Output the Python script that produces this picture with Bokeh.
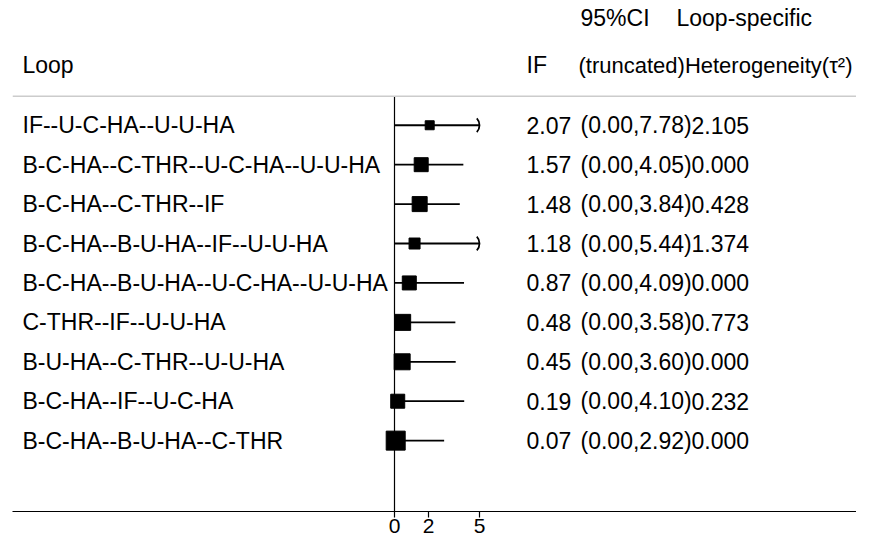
from bokeh.plotting import figure
from bokeh.models import Range1d, FixedTicker, Span
from bokeh.core.properties import value
from bokeh.embed import file_html
from bokeh.resources import INLINE

# ---------------- data ----------------
loops = [
    "IF--U-C-HA--U-U-HA",
    "B-C-HA--C-THR--U-C-HA--U-U-HA",
    "B-C-HA--C-THR--IF",
    "B-C-HA--B-U-HA--IF--U-U-HA",
    "B-C-HA--B-U-HA--U-C-HA--U-U-HA",
    "C-THR--IF--U-U-HA",
    "B-U-HA--C-THR--U-U-HA",
    "B-C-HA--IF--U-C-HA",
    "B-C-HA--B-U-HA--C-THR",
]
if_vals = [2.07, 1.57, 1.48, 1.18, 0.87, 0.48, 0.45, 0.19, 0.07]
ci_lo = [0.00, 0.00, 0.00, 0.00, 0.00, 0.00, 0.00, 0.00, 0.00]
ci_hi = [7.78, 4.05, 3.84, 5.44, 4.09, 3.58, 3.60, 4.10, 2.92]
tau2 = [2.105, 0.000, 0.428, 1.374, 0.000, 0.773, 0.000, 0.232, 0.000]
weight_px = [9, 14, 15, 11, 14, 16, 16, 14, 19]
x_ticks = [0, 2, 5]
trunc_at = 5

# ---------------- layout ----------------
FONT = "Liberation Sans"
W, H = 856, 535
LEFT, RIGHT = 12, 856   # frame extent (px)
PX_UNIT = 17.0          # px per IF unit
ZERO_PX = 394.0         # x of IF = 0
ROW_PX = 39.5           # px per row
ROW1_PX = 125.0         # y of first row
FRAME_H = 512.0         # expected frame height

x_start = (LEFT - ZERO_PX) / PX_UNIT
x_end = (RIGHT - ZERO_PX) / PX_UNIT
y_top = 1 - ROW1_PX / ROW_PX
y_bot = 1 + (FRAME_H - ROW1_PX) / ROW_PX

def col(px):
    return (px - ZERO_PX) / PX_UNIT

def row(py):
    return 1 + (py - ROW1_PX) / ROW_PX

rows = list(range(1, len(loops) + 1))

p = figure(width=W, height=H, output_backend="svg", toolbar_location=None,
           x_range=Range1d(x_start, x_end), y_range=Range1d(y_bot, y_top),
           y_axis_location=None, min_border_left=LEFT, min_border_right=W - RIGHT,
           min_border_top=0, min_border_bottom=0)
p.grid.visible = False
p.outline_line_color = None
p.background_fill_color = "white"
p.border_fill_color = "white"

ax = p.xaxis[0]
ax.ticker = FixedTicker(ticks=x_ticks)
ax.minor_tick_line_color = None
ax.major_tick_in = 0
ax.major_tick_out = 6
ax.major_tick_line_color = "black"
ax.major_tick_line_width = 1.2
ax.axis_line_color = "black"
ax.axis_line_width = 1.2
ax.major_label_standoff = 1
ax.major_label_text_font = FONT
ax.major_label_text_font_size = "21px"
ax.major_label_text_color = "black"

sep_y = row(96)
p.add_layout(Span(location=sep_y, dimension="width", line_color="#cccccc", line_width=1.5))
p.segment(x0=[0], y0=[sep_y], x1=[0], y1=[y_bot], line_color="black", line_width=1.2)

# CI lines (truncated)
hi_plot = [min(h, trunc_at) for h in ci_hi]
p.segment(x0=ci_lo, y0=rows, x1=hi_plot, y1=rows, line_color="black", line_width=1.8)
# truncation marks
tr_rows = [r for r, h in zip(rows, ci_hi) if h > trunc_at]
arc_r = 10
p.arc(x=[trunc_at - arc_r / PX_UNIT] * len(tr_rows), y=tr_rows, radius=arc_r,
      radius_units="screen", start_angle=-0.75, end_angle=0.75,
      line_color="black", line_width=1.8)
# squares
p.scatter(x=if_vals, y=rows, size=weight_px, marker="square", color="black")

FS = "23px"
def txt(x, y, t, size=FS):
    p.text(x=x, y=y, text=t, text_font=value(FONT), text_font_size=size,
           text_color="black", text_align="left", text_baseline="middle")

txt([col(22)] * len(rows), rows, loops)
txt([col(526)] * len(rows), rows, [f"{v:.2f}" for v in if_vals])
txt([col(580)] * len(rows), rows, [f"({a:.2f},{b:.2f})" for a, b in zip(ci_lo, ci_hi)])
txt([col(691)] * len(rows), rows, [f"{t:.3f}" for t in tau2])

h1 = row(18)
h2 = row(65)
txt([col(22)], [h2], ["Loop"])
txt([col(526)], [h2], ["IF"])
txt([col(580)], [h1], ["95%CI"])
txt([col(676)], [h1], ["Loop-specific"])
txt([col(578)], [h2], ["(truncated)Heterogeneity(τ²)"], size="22px")

open("out.html", "w").write(file_html(p, INLINE))
